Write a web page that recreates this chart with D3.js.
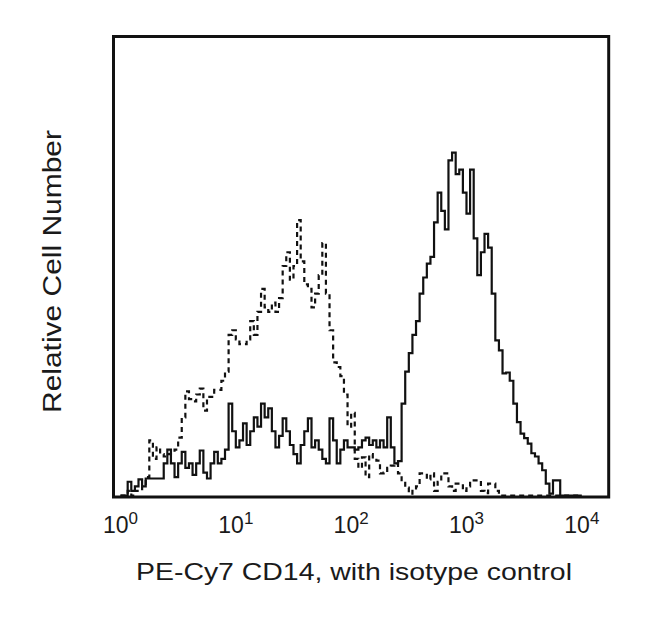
<!DOCTYPE html>
<html>
<head>
<meta charset="utf-8">
<script src="https://cdn.jsdelivr.net/npm/d3@7"></script>
<style>
  html, body { margin: 0; padding: 0; background: #fff; }
  svg { display: block; }
  text { font-family: "Liberation Sans", Arial, Helvetica, sans-serif; fill: #1a1a1a; }
</style>
</head>
<body>
<svg id="chart" width="650" height="622"></svg>
<script>
// ---- data (histogram counts per bin, 32 bins per decade starting at 10^0) ----
const binsPerDecade = 32;
const tickExponents = [0, 1, 2, 3, 4];
const xAxisTitle = "PE-Cy7 CD14, with isotype control";
const yAxisTitle = "Relative Cell Number";

// PE-Cy7 CD14 stained (solid)
const cd14Counts = [
  0, 0, 3, 1, 2, 3.5, 2, 3.7, 3.7, 3.7,
  3.7, 3.7, 7, 10, 7, 4, 7, 9.5, 6, 7,
  4.5, 7, 9.8, 5, 3.7, 7, 9.5, 7, 8, 10,
  20, 14, 10.5, 12, 15.7, 11, 14, 17, 15, 20,
  17, 19, 14, 10.5, 13, 16.8, 14, 11, 9, 7,
  11, 14, 16.8, 10.5, 12, 10, 8, 7, 16.8, 12,
  7, 10, 12, 10.5, 10.5, 10, 10.5, 12, 12.6, 11,
  12, 10.5, 12, 10.5, 17, 10.5, 7, 7.5, 20, 27,
  31, 35, 38, 44, 47.5, 50.5, 52, 59.5, 66, 62,
  58, 73, 74.7, 70, 71, 66, 61.4, 71, 56, 48,
  53, 57, 54, 44, 33.8, 31.6, 26.6, 26.8, 25, 20,
  16, 13.5, 12.5, 11.3, 9.2, 8.5, 7, 5.5, 2.6, 0.4,
  3.3, 3.3, 0, 0, 0, 0, 0, 0
];

// Isotype control (dashed)
const isotypeCounts = [
  0, 0, 1, 0, 1, 1, 2, 4, 12, 8,
  10.5, 9, 8.5, 9, 9.5, 10, 12.6, 17, 22.7, 21,
  20.5, 22, 23.3, 18.5, 21.5, 21.5, 23, 23, 25, 27,
  35, 36, 34, 33, 33, 34, 38, 35, 40, 45,
  41, 40, 42, 40, 43, 50, 53, 47, 50, 60,
  51, 46, 45, 41, 44, 48, 55, 44, 36, 29,
  28, 26, 22, 15, 18, 8, 6, 8.3, 4, 9,
  8, 7.6, 4.8, 5, 6, 6.5, 7, 4.8, 3, 1.7,
  0.4, 1, 2, 4.8, 4.8, 3.5, 4.8, 1, 3, 4.8,
  4.8, 2, 1, 2.6, 2.6, 1, 2, 3.3, 3.3, 3.3,
  1, 0.5, 2.6, 2.6, 1, 0, 0, 0, 0, 0,
  0, 0, 0, 0, 0, 0, 0, 0, 0, 0,
  0, 0, 0, 0, 0, 0, 0, 0
];

// ---- layout ----
const svg = d3.select("#chart");
const frame = { left: 113.5, right: 608.7, top: 36.5, bottom: 497 };

// log x scale: 10^0 -> 119, 10^4 -> 582 (frame extends slightly beyond)
const x = d3.scaleLog()
  .domain([Math.pow(10, -0.0605), Math.pow(10, 4.233)])
  .range([frame.left, frame.right]);

const y = d3.scaleLinear()
  .domain([0, 100])
  .range([495.5, 36.5]);

function toPoints(counts) {
  const pts = counts.map((c, i) => ({ v: Math.pow(10, i / binsPerDecade), c }));
  pts.push({ v: Math.pow(10, counts.length / binsPerDecade), c: 0 });
  return pts;
}

const line = d3.line()
  .x(d => x(d.v))
  .y(d => y(d.c))
  .curve(d3.curveStepAfter);

const plot = svg.append("g");
const clipId = "plotclip";
svg.append("defs").append("clipPath").attr("id", clipId)
  .append("rect")
  .attr("x", frame.left).attr("y", frame.top)
  .attr("width", frame.right - frame.left)
  .attr("height", frame.bottom - frame.top);

plot.append("path")
  .attr("clip-path", `url(#${clipId})`)
  .attr("d", line(toPoints(isotypeCounts)))
  .attr("fill", "none")
  .attr("stroke", "#111")
  .attr("stroke-width", 2.2)
  .attr("stroke-dasharray", "5,4");

plot.append("path")
  .attr("clip-path", `url(#${clipId})`)
  .attr("d", line(toPoints(cd14Counts)))
  .attr("fill", "none")
  .attr("stroke", "#111")
  .attr("stroke-width", 2.2);

// frame
svg.append("rect")
  .attr("x", frame.left).attr("y", frame.top)
  .attr("width", frame.right - frame.left)
  .attr("height", frame.bottom - frame.top)
  .attr("fill", "none")
  .attr("stroke", "#111")
  .attr("stroke-width", 3);

// tick labels 10^n
const ticks = svg.append("g");
tickExponents.forEach(e => {
  const t = ticks.append("text")
    .attr("x", x(Math.pow(10, e)))
    .attr("y", 533)
    .attr("text-anchor", "middle")
    .style("font-size", "23px");
  t.append("tspan").text("10");
  t.append("tspan").attr("dy", -9).style("font-size", "17px").text(String(e));
});

// axis titles
svg.append("text")
  .attr("x", 354)
  .attr("y", 580)
  .attr("text-anchor", "middle")
  .attr("textLength", 436)
  .attr("lengthAdjust", "spacingAndGlyphs")
  .style("font-size", "24px")
  .text(xAxisTitle);

svg.append("text")
  .attr("transform", "translate(61,271.5) rotate(-90)")
  .attr("text-anchor", "middle")
  .attr("textLength", 283)
  .attr("lengthAdjust", "spacingAndGlyphs")
  .style("font-size", "26px")
  .text(yAxisTitle);
</script>
</body>
</html>
